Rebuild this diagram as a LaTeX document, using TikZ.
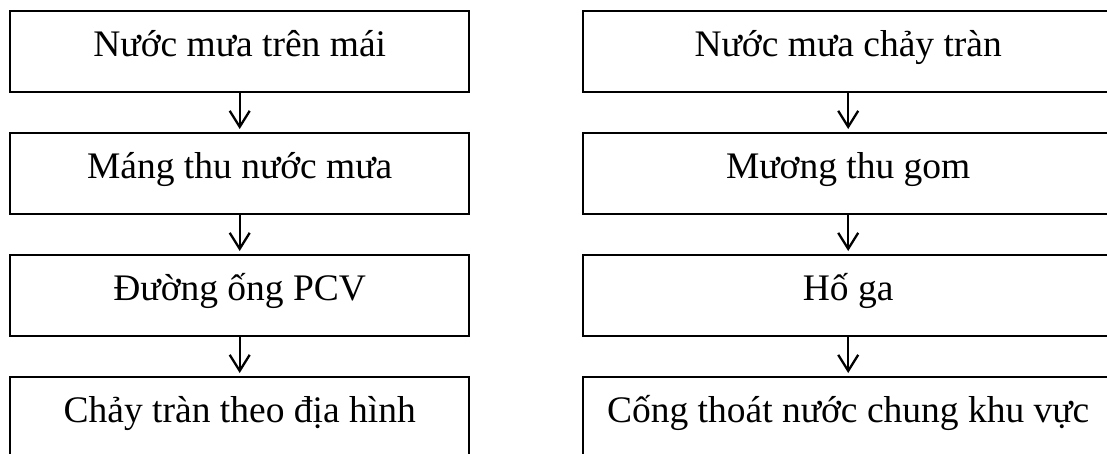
\documentclass[tikz,border=0pt]{standalone}
\usepackage{fontspec}
\setmainfont{Liberation Serif}
\usetikzlibrary{arrows.meta}
\tikzset{
  flowbox/.style={draw=black, line width=2.4pt, rectangle, inner sep=0pt,
    text height=45pt, text depth=36pt, anchor=north west,
    font=\fontsize{37.5pt}{40pt}\selectfont},
  leftbox/.style={flowbox, minimum width=459pt},
  rightbox/.style={flowbox, minimum width=530pt},
  flowarrow/.style={draw=black, line width=2.3pt,
    -{Straight Barb[length=16pt,width=20pt,line width=2.3pt]}, shorten >=3pt}
}
\begin{document}
\begin{tikzpicture}[x=1pt,y=1pt]
\clip (0,0) rectangle (1107,-453);
\fill[white] (0,0) rectangle (1107,-453);
% left column
\node[leftbox] (l1) at (9,-10)  {Nước mưa trên mái};
\node[leftbox] (l2) at (9,-132) {Máng thu nước mưa};
\node[leftbox] (l3) at (9,-254) {Đường ống PCV};
\node[leftbox] (l4) at (9,-376) {Chảy tràn theo địa hình};
% right column
\node[rightbox] (r1) at (582,-10)  {Nước mưa chảy tràn};
\node[rightbox] (r2) at (582,-132) {Mương thu gom};
\node[rightbox] (r3) at (582,-254) {Hố ga};
\node[rightbox] (r4) at (582,-376) {Cống thoát nước chung khu vực};
% arrows
\draw[flowarrow] (l1.south) -- (l2.north);
\draw[flowarrow] (l2.south) -- (l3.north);
\draw[flowarrow] (l3.south) -- (l4.north);
\draw[flowarrow] (r1.south) -- (r2.north);
\draw[flowarrow] (r2.south) -- (r3.north);
\draw[flowarrow] (r3.south) -- (r4.north);
\end{tikzpicture}
\end{document}
